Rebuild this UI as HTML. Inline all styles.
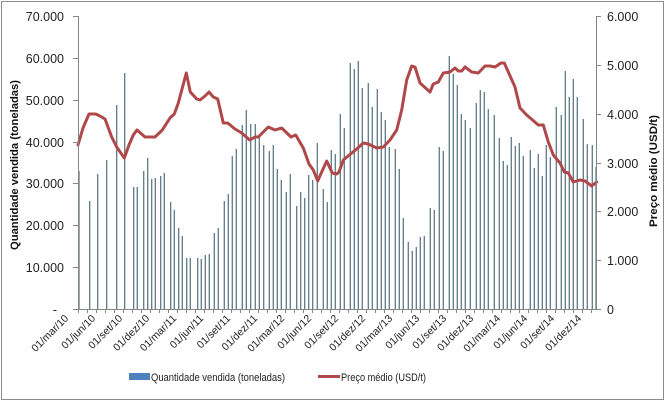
<!DOCTYPE html>
<html><head><meta charset="utf-8"><style>
html,body{margin:0;padding:0;background:#fff;}
svg{display:block;font-family:"Liberation Sans",sans-serif;}
</style></head><body>
<svg width="667" height="402" viewBox="0 0 667 402" xmlns="http://www.w3.org/2000/svg">
<rect x="1.5" y="1.5" width="662" height="398" fill="#fff" stroke="#8c8c8c" stroke-width="1"/>
<g stroke="#5e7a86" stroke-width="1.3">
<line x1="79" y1="309" x2="79" y2="171"/><line x1="89.7" y1="309" x2="89.7" y2="201"/><line x1="97.7" y1="309" x2="97.7" y2="174"/><line x1="106.7" y1="309" x2="106.7" y2="160"/><line x1="116.7" y1="309" x2="116.7" y2="105"/><line x1="124.7" y1="309" x2="124.7" y2="73"/><line x1="133.7" y1="309" x2="133.7" y2="187"/><line x1="137.3" y1="309" x2="137.3" y2="187"/><line x1="143.7" y1="309" x2="143.7" y2="171"/><line x1="147.7" y1="309" x2="147.7" y2="158"/><line x1="151.7" y1="309" x2="151.7" y2="179"/><line x1="155.3" y1="309" x2="155.3" y2="178"/><line x1="160.7" y1="309" x2="160.7" y2="176"/><line x1="164.3" y1="309" x2="164.3" y2="173"/><line x1="170.7" y1="309" x2="170.7" y2="202"/><line x1="174.3" y1="309" x2="174.3" y2="210"/><line x1="178.7" y1="309" x2="178.7" y2="228"/><line x1="182.3" y1="309" x2="182.3" y2="236"/><line x1="186.7" y1="309" x2="186.7" y2="258"/><line x1="190.3" y1="309" x2="190.3" y2="258"/><line x1="197.7" y1="309" x2="197.7" y2="258"/><line x1="201.3" y1="309" x2="201.3" y2="259"/><line x1="205.3" y1="309" x2="205.3" y2="255"/><line x1="209.3" y1="309" x2="209.3" y2="254"/>
<line x1="214.3" y1="309" x2="214.3" y2="233"/><line x1="218.3" y1="309" x2="218.3" y2="228"/><line x1="224.3" y1="309" x2="224.3" y2="201"/><line x1="228.3" y1="309" x2="228.3" y2="194"/><line x1="232.3" y1="309" x2="232.3" y2="156"/><line x1="236.3" y1="309" x2="236.3" y2="149"/><line x1="242.3" y1="309" x2="242.3" y2="125"/><line x1="246.3" y1="309" x2="246.3" y2="110"/><line x1="250.7" y1="309" x2="250.7" y2="124"/><line x1="255.3" y1="309" x2="255.3" y2="124"/><line x1="259.3" y1="309" x2="259.3" y2="137"/><line x1="263.7" y1="309" x2="263.7" y2="145"/><line x1="269.3" y1="309" x2="269.3" y2="151"/><line x1="273.3" y1="309" x2="273.3" y2="145"/><line x1="277.3" y1="309" x2="277.3" y2="169"/><line x1="281.3" y1="309" x2="281.3" y2="180"/><line x1="286.3" y1="309" x2="286.3" y2="192"/><line x1="290.3" y1="309" x2="290.3" y2="174"/><line x1="296.7" y1="309" x2="296.7" y2="206"/><line x1="300.7" y1="309" x2="300.7" y2="192"/><line x1="304.7" y1="309" x2="304.7" y2="198"/><line x1="308.7" y1="309" x2="308.7" y2="175"/><line x1="312.7" y1="309" x2="312.7" y2="180"/><line x1="317.3" y1="309" x2="317.3" y2="143"/><line x1="323.3" y1="309" x2="323.3" y2="189"/><line x1="327.3" y1="309" x2="327.3" y2="202"/><line x1="331.3" y1="309" x2="331.3" y2="150"/><line x1="335.3" y1="309" x2="335.3" y2="154"/>
<line x1="340.3" y1="309" x2="340.3" y2="114"/><line x1="344.3" y1="309" x2="344.3" y2="128"/><line x1="350.3" y1="309" x2="350.3" y2="63"/><line x1="354.3" y1="309" x2="354.3" y2="69"/><line x1="358.3" y1="309" x2="358.3" y2="61"/><line x1="362.3" y1="309" x2="362.3" y2="88"/><line x1="368.3" y1="309" x2="368.3" y2="83"/><line x1="372.3" y1="309" x2="372.3" y2="107"/><line x1="377.3" y1="309" x2="377.3" y2="89"/><line x1="381.3" y1="309" x2="381.3" y2="112"/><line x1="385.3" y1="309" x2="385.3" y2="120"/><line x1="389.3" y1="309" x2="389.3" y2="147"/><line x1="395.3" y1="309" x2="395.3" y2="149"/><line x1="399.3" y1="309" x2="399.3" y2="169"/><line x1="403.3" y1="309" x2="403.3" y2="218"/><line x1="408.3" y1="309" x2="408.3" y2="242"/><line x1="412.3" y1="309" x2="412.3" y2="251"/><line x1="416.3" y1="309" x2="416.3" y2="247"/><line x1="420.3" y1="309" x2="420.3" y2="237"/><line x1="424.3" y1="309" x2="424.3" y2="236"/><line x1="430.3" y1="309" x2="430.3" y2="208"/><line x1="434.3" y1="309" x2="434.3" y2="210"/><line x1="439.3" y1="309" x2="439.3" y2="147"/><line x1="443.3" y1="309" x2="443.3" y2="151"/><line x1="449.3" y1="309" x2="449.3" y2="56"/><line x1="453.3" y1="309" x2="453.3" y2="74"/><line x1="457.3" y1="309" x2="457.3" y2="85"/><line x1="461.3" y1="309" x2="461.3" y2="114"/><line x1="465.3" y1="309" x2="465.3" y2="120"/>
<line x1="470.3" y1="309" x2="470.3" y2="128"/><line x1="476.3" y1="309" x2="476.3" y2="103"/><line x1="480.3" y1="309" x2="480.3" y2="90"/><line x1="484.3" y1="309" x2="484.3" y2="92"/><line x1="488.3" y1="309" x2="488.3" y2="109"/><line x1="494.3" y1="309" x2="494.3" y2="115"/><line x1="499.3" y1="309" x2="499.3" y2="138"/><line x1="503.3" y1="309" x2="503.3" y2="161"/><line x1="507.3" y1="309" x2="507.3" y2="165"/><line x1="511.3" y1="309" x2="511.3" y2="137"/><line x1="515.3" y1="309" x2="515.3" y2="146"/><line x1="519.3" y1="309" x2="519.3" y2="143"/><line x1="523.3" y1="309" x2="523.3" y2="156"/><line x1="530.3" y1="309" x2="530.3" y2="150"/><line x1="534.3" y1="309" x2="534.3" y2="168"/><line x1="538.3" y1="309" x2="538.3" y2="154"/><line x1="542.3" y1="309" x2="542.3" y2="176"/><line x1="546.3" y1="309" x2="546.3" y2="145"/><line x1="550.3" y1="309" x2="550.3" y2="157"/><line x1="556.3" y1="309" x2="556.3" y2="107"/><line x1="561.3" y1="309" x2="561.3" y2="115"/><line x1="565.3" y1="309" x2="565.3" y2="71"/><line x1="569.3" y1="309" x2="569.3" y2="97"/><line x1="573.3" y1="309" x2="573.3" y2="79"/><line x1="577.3" y1="309" x2="577.3" y2="97"/><line x1="583.3" y1="309" x2="583.3" y2="119"/><line x1="587.3" y1="309" x2="587.3" y2="144"/><line x1="592.3" y1="309" x2="592.3" y2="145"/><line x1="596" y1="309" x2="596" y2="167"/>
</g>
<polyline fill="none" stroke="#b0484a" stroke-width="3" stroke-linejoin="round" stroke-linecap="round" points="78,145 83,128 89,114 95.7,114 100,116 105,119 111.7,137 116.7,147 124.3,158 129,145 133.3,135 137,130 145,137 150,137 155,137 162.3,130 170,118 174.3,114 178.3,103 182.3,88 186.3,73 190.3,92 196.7,99 200,100 205,96 209,92 213.3,97 217.7,99 223.3,123 227.7,123 235,129 241.7,133 249.7,140 255,137 258.3,137 268.3,127 275,130 281.7,128 291,137 295.7,135 303.3,148 309,164 313.3,170 317.7,181 321.7,172 326.7,161 332.3,173 336.7,174 339,172 343.3,160 351.7,153 356.7,149 363.3,143 368.3,144 376.7,148 383.3,147 390,140 396.7,130 401.7,110 406.7,80 411.7,66 415,67 420,83 430,92 433.3,84 438.3,82 443.3,73 450,72 455,68 458.3,71 461.7,71 465,67 471.7,72 478.3,73 485,66 490,66 495,67 501,63 504.3,63 508.3,72 515,87 520,108 526.7,115 538.3,125 543.3,125 548.3,142 553.3,155 560,163 564.3,172 568.3,173 573.3,182 580,180 585,181 591.7,186 596.7,182"/>
<g stroke="#868686" stroke-width="1" fill="none">
<line x1="78.5" y1="16" x2="78.5" y2="309.5"/>
<line x1="596.5" y1="16" x2="596.5" y2="309.5"/>
<line x1="78" y1="309.5" x2="597" y2="309.5"/>
<path d="M73 16.5H78M73 58.5H78M73 100.5H78M73 142.5H78M73 183.5H78M73 225.5H78M73 267.5H78M73 309.5H78"/>
<path d="M596 16.5H601M596 65.5H601M596 114.5H601M596 163.5H601M596 211.5H601M596 260.5H601M596 309.5H601"/>
<path d="M78.5 309V313M87.5 309V313M96.5 309V313M105.5 309V313M114.5 309V313M123.5 309V313M132.5 309V313M141.5 309V313M150.5 309V313M159.5 309V313M168.5 309V313M177.5 309V313M186.5 309V313M195.5 309V313M204.5 309V313M213.5 309V313M222.5 309V313M231.5 309V313M240.5 309V313M249.5 309V313M258.5 309V313M267.5 309V313M276.5 309V313M285.5 309V313M294.5 309V313M303.5 309V313M312.5 309V313M321.5 309V313M330.5 309V313M339.5 309V313M348.5 309V313M357.5 309V313M366.5 309V313M375.5 309V313M384.5 309V313M393.5 309V313M402.5 309V313M411.5 309V313M420.5 309V313M429.5 309V313M438.5 309V313M447.5 309V313M456.5 309V313M465.5 309V313M474.5 309V313M483.5 309V313M492.5 309V313M501.5 309V313M510.5 309V313M519.5 309V313M528.5 309V313M537.5 309V313M546.5 309V313M555.5 309V313M564.5 309V313M573.5 309V313M582.5 309V313M591.5 309V313"/>
</g>
<g font-size="12.5" fill="#222" text-anchor="end">
<text x="64" y="21">70.000</text><text x="64" y="63">60.000</text><text x="64" y="105">50.000</text><text x="64" y="147">40.000</text><text x="64" y="188">30.000</text><text x="64" y="230">20.000</text><text x="64" y="272">10.000</text><text x="57" y="314">-</text>
</g>
<g font-size="12.5" fill="#222">
<text x="607" y="21">6.000</text><text x="607" y="70">5.000</text><text x="607" y="119">4.000</text><text x="607" y="168">3.000</text><text x="607" y="216">2.000</text><text x="607" y="265">1.000</text><text x="607" y="314">0</text>
</g>
<text transform="translate(18,165) rotate(-90)" font-size="11" font-weight="bold" text-anchor="middle" fill="#111" textLength="170" lengthAdjust="spacingAndGlyphs">Quantidade vendida (toneladas)</text>
<text transform="translate(657,171) rotate(-90)" font-size="11" font-weight="bold" text-anchor="middle" fill="#111" textLength="112" lengthAdjust="spacingAndGlyphs">Preço médio (USD/t)</text>
<g font-size="10.5" fill="#222" text-anchor="end">
<text transform="translate(69,319) rotate(-45)">01/mar/10</text>
<text transform="translate(96,319) rotate(-45)">01/jun/10</text>
<text transform="translate(123,319) rotate(-45)">01/set/10</text>
<text transform="translate(150,319) rotate(-45)">01/dez/10</text>
<text transform="translate(177,319) rotate(-45)">01/mar/11</text>
<text transform="translate(204,319) rotate(-45)">01/jun/11</text>
<text transform="translate(231,319) rotate(-45)">01/set/11</text>
<text transform="translate(258,319) rotate(-45)">01/dez/11</text>
<text transform="translate(285,319) rotate(-45)">01/mar/12</text>
<text transform="translate(312,319) rotate(-45)">01/jun/12</text>
<text transform="translate(339,319) rotate(-45)">01/set/12</text>
<text transform="translate(366,319) rotate(-45)">01/dez/12</text>
<text transform="translate(393,319) rotate(-45)">01/mar/13</text>
<text transform="translate(420,319) rotate(-45)">01/jun/13</text>
<text transform="translate(447,319) rotate(-45)">01/set/13</text>
<text transform="translate(474,319) rotate(-45)">01/dez/13</text>
<text transform="translate(501,319) rotate(-45)">01/mar/14</text>
<text transform="translate(528,319) rotate(-45)">01/jun/14</text>
<text transform="translate(555,319) rotate(-45)">01/set/14</text>
<text transform="translate(582,319) rotate(-45)">01/dez/14</text>
</g>
<rect x="129" y="373" width="21" height="7" fill="#4f81bd"/>
<text x="151" y="381" font-size="11" fill="#222" textLength="134" lengthAdjust="spacingAndGlyphs">Quantidade vendida (toneladas)</text>
<line x1="318" y1="376.5" x2="340" y2="376.5" stroke="#b0484a" stroke-width="3"/>
<text x="341" y="381" font-size="11" fill="#222" textLength="85" lengthAdjust="spacingAndGlyphs">Preço médio (USD/t)</text>
</svg>
</body></html>
